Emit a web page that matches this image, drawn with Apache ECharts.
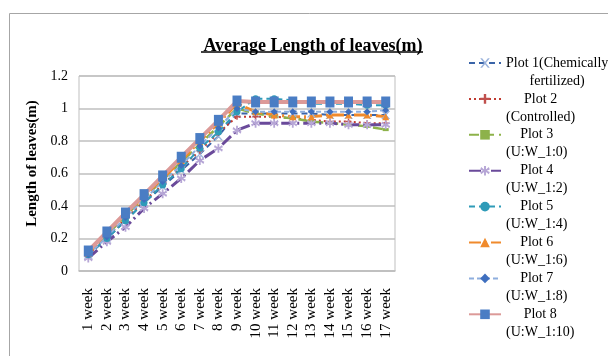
<!DOCTYPE html>
<html>
<head>
    <meta charset="utf-8">
    <title>Average Length of leaves</title>
    <script src="https://cdn.jsdelivr.net/npm/echarts@6/dist/echarts.min.js"></script>
    <style>
        html, body { margin: 0; padding: 0; background: #fff; }
        #chart { width: 608px; height: 356px; }
    </style>
</head>
<body>
<div id="chart"></div>
<script type="text/javascript">
    // 数据
    var weeks = ['1 week', '2 week', '3 week', '4 week', '5 week', '6 week', '7 week', '8 week', '9 week',
        '10 week', '11 week', '12 week', '13 week', '14 week', '15 week', '16 week', '17 week'];
    var yTicks = [0, 0.2, 0.4, 0.6, 0.8, 1, 1.2];

    var plot1 = [0.10, 0.20, 0.31, 0.42, 0.52, 0.62, 0.72, 0.83, 0.97, 0.97, 0.97, 0.97, 0.97, 0.96, 0.96, 0.96, 0.96];
    var plot2 = [0.10, 0.21, 0.32, 0.43, 0.53, 0.64, 0.74, 0.85, 0.95, 0.95, 0.95, 0.94, 0.93, 0.92, 0.92, 0.91, 0.91];
    var plot3 = [0.11, 0.22, 0.34, 0.45, 0.56, 0.67, 0.78, 0.89, 1.00, 0.97, 0.95, 0.94, 0.92, 0.91, 0.90, 0.89, 0.87];
    var plot4 = [0.08, 0.18, 0.27, 0.385, 0.476, 0.57, 0.68, 0.755, 0.866, 0.91, 0.91, 0.91, 0.91, 0.91, 0.90, 0.90, 0.90];
    var plot5 = [0.10, 0.20, 0.31, 0.42, 0.53, 0.63, 0.755, 0.855, 0.98, 1.06, 1.06, 1.05, 1.03, 1.03, 1.03, 1.02, 1.02];
    var plot6 = [0.11, 0.23, 0.35, 0.46, 0.57, 0.68, 0.80, 0.91, 1.03, 0.98, 0.96, 0.95, 0.95, 0.96, 0.96, 0.96, 0.95];
    var plot7 = [0.10, 0.21, 0.33, 0.44, 0.55, 0.65, 0.77, 0.88, 1.00, 0.98, 0.98, 0.98, 0.98, 0.98, 0.98, 0.98, 0.99];
    var plot8 = [0.123, 0.24, 0.357, 0.47, 0.585, 0.70, 0.815, 0.927, 1.046, 1.04, 1.04, 1.04, 1.04, 1.04, 1.04, 1.04, 1.04];

    var legendNames = ['Plot 1(Chemically\nfertilized)', 'Plot 2\n(Controlled)', 'Plot 3\n(U:W_1:0)', 'Plot 4\n(U:W_1:2)',
        'Plot 5\n(U:W_1:4)', 'Plot 6\n(U:W_1:6)', 'Plot 7\n(U:W_1:8)', 'Plot 8\n(U:W_1:10)'];

    var SERIF = '"Liberation Serif", "Times New Roman", serif';
    var crossPath = 'path://M0,0L2,0L5,3L8,0L10,0L6,4L10,8L8,8L5,5L2,8L0,8L4,4Z';
    var starPath = 'path://M4,0L6,0L6,3L9,1L10,3L7,4L10,5L9,7L6,5L6,8L4,8L4,5L1,7L0,5L3,4L0,3L1,1L4,3Z';

    function lineSeries(name, data, color, lineType, width, symbol, symbolSize, symbolColor) {
        return {
            name: name,
            type: 'line',
            data: data,
            symbol: symbol,
            symbolSize: symbolSize,
            showAllSymbol: true,
            lineStyle: { color: color, width: width, type: lineType },
            itemStyle: { color: symbolColor || color, borderWidth: 0 },
            emphasis: { disabled: true }
        };
    }

    var myChart = echarts.init(document.getElementById('chart'));
    var option = {
        animation: false,
        title: {
            text: 'Average Length of leaves(m)',
            left: 308,
            textAlign: 'center',
            top: 32,
            textStyle: {
                fontFamily: SERIF,
                fontSize: 18,
                fontWeight: 'bold',
                color: '#000'
            }
        },
        graphic: [{
            type: 'rect',
            shape: { x: 9.5, y: 13.5, width: 640, height: 400 },
            style: { fill: 'none', stroke: '#a6a6a6', lineWidth: 1 },
            silent: true
        }, {
            type: 'line',
            shape: { x1: 201, y1: 52, x2: 423, y2: 52 },
            style: { stroke: '#000', lineWidth: 1.5 },
            silent: true
        }],
        legend: {
            orient: 'vertical',
            left: 468,
            top: 56,
            padding: 0,
            itemWidth: 32,
            itemHeight: 12,
            itemGap: 3.9,
            data: legendNames,
            formatter: function(name) {
                var parts = name.split('\n');
                return '{a|' + parts[0] + '}\n{a|' + parts[1] + '}';
            },
            textStyle: {
                padding: [18, 0, 0, 0],
                rich: {
                    a: {
                        fontFamily: SERIF,
                        fontSize: 14,
                        lineHeight: 18,
                        color: '#000',
                        align: 'center'
                    }
                }
            }
        },
        grid: {
            left: 79,
            right: 213,
            top: 76,
            bottom: 85,
            show: true,
            borderColor: '#bfbfbf',
            borderWidth: 1
        },
        xAxis: {
            type: 'category',
            data: weeks,
            boundaryGap: true,
            axisLine: { show: true, lineStyle: { color: '#bfbfbf', width: 1.5 } },
            axisTick: { show: false },
            axisLabel: {
                rotate: 90,
                margin: 17,
                interval: 0,
                fontFamily: SERIF,
                fontSize: 15,
                color: '#000'
            }
        },
        yAxis: {
            type: 'value',
            min: yTicks[0],
            max: yTicks[yTicks.length - 1],
            interval: 0.2,
            name: 'Length of leaves(m)',
            nameLocation: 'middle',
            nameGap: 37,
            nameTextStyle: {
                fontFamily: SERIF,
                fontSize: 15,
                fontWeight: 'bold',
                color: '#000',
                padding: [0, 0, 0, 20]
            },
            axisLine: { show: false },
            axisTick: { show: false },
            axisLabel: {
                margin: 11,
                fontFamily: SERIF,
                fontSize: 14,
                color: '#000'
            },
            splitLine: { lineStyle: { color: '#bfbfbf', width: 1.5 } }
        },
        series: [
            lineSeries(legendNames[0], plot1, '#3a64a8', [6, 4], 2, crossPath, [9, 8], '#9bb3dc'),
            lineSeries(legendNames[1], plot2, '#c0392f', [2, 3], 2, 'path://M3,0L5,0L5,3L8,3L8,5L5,5L5,8L3,8L3,5L0,5L0,3L3,3Z', 6, '#c0504d'),
            lineSeries(legendNames[2], plot3, '#8db24a', [10, 5], 2.5, 'rect', [6, 3], '#8db24a'),
            lineSeries(legendNames[3], plot4, '#6a4a9a', [12, 4, 2, 4], 3, starPath, 9, '#b6a6d6'),
            lineSeries(legendNames[4], plot5, '#2f9bb8', [6, 4], 2, 'circle', 7, '#2f9bb8'),
            lineSeries(legendNames[5], plot6, '#f08a2c', [12, 4, 2, 4], 3, 'triangle', 7, '#f08a2c'),
            lineSeries(legendNames[6], plot7, '#8eaede', [5, 3], 2, 'diamond', 7, '#3f6fbf'),
            lineSeries(legendNames[7], plot8, '#dc9a98', 'solid', 4, 'rect', [9, 11], '#4a7dc4')
        ]
    };
    myChart.setOption(option);
</script>
</body>
</html>
